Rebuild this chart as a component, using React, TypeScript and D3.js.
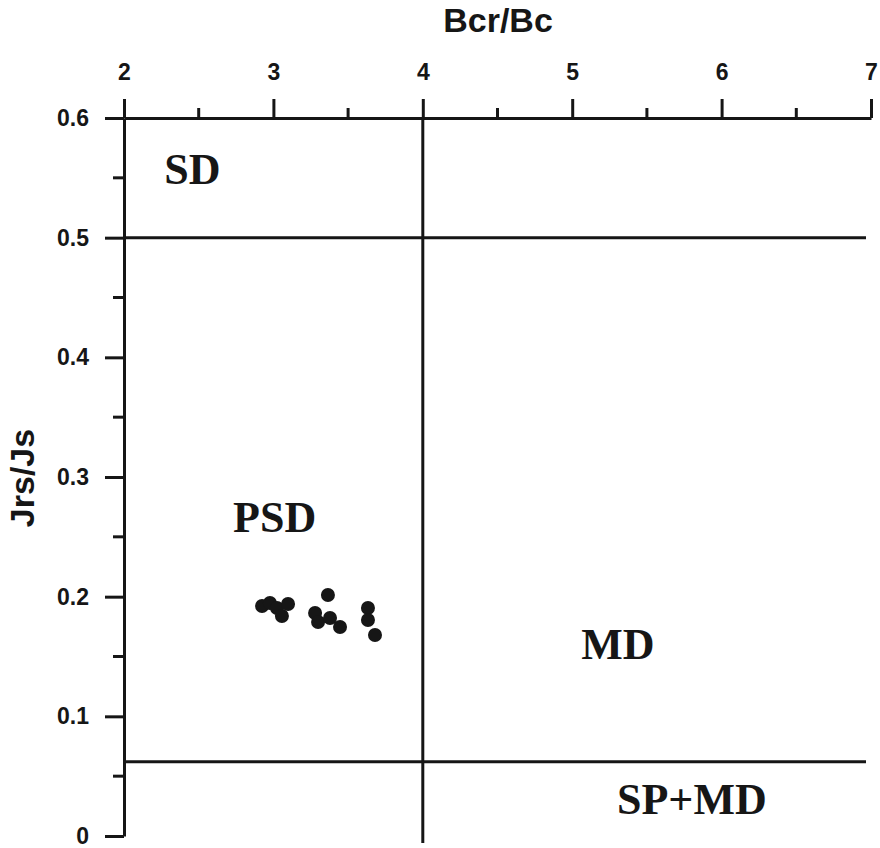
import React, { useEffect, useRef } from 'react';
import * as d3 from 'd3';

// Day plot data: Bcr/Bc vs Jrs/Js
const bcrBc = [2.924, 2.977, 3.024, 3.057, 3.098, 3.365, 3.279, 3.299, 3.379, 3.446, 3.633, 3.633, 3.68];
const jrsJs = [0.1922, 0.1947, 0.1905, 0.1838, 0.1939, 0.2014, 0.1864, 0.1788, 0.1822, 0.1747, 0.1905, 0.1805, 0.168];

const xTicks = [2, 3, 4, 5, 6, 7];
const xMinorTicks = [2.5, 3.5, 4.5, 5.5, 6.5];
const yTicks = [0, 0.1, 0.2, 0.3, 0.4, 0.5, 0.6];
const yMinorTicks = [0.05, 0.15, 0.25, 0.35, 0.45, 0.55];

// domain boundaries
const sdLimitY = 0.5;
const spLimitY = 0.062;
const psdLimitX = 4;

const regionLabels = ['SD', 'PSD', 'MD', 'SP+MD'];
const regionX = [2.27, 2.73, 5.06, 5.3];
const regionY = [0.545, 0.254, 0.148, 0.018];

const W = 880;
const H = 848;

const App: React.FC = () => {
  const svgRef = useRef<SVGSVGElement>(null);

  useEffect(() => {
    if (!svgRef.current) return;

    const svg = d3.select(svgRef.current);
    svg.selectAll('*').remove();

    const x = d3.scaleLinear().domain([2, 7]).range([124, 871]);
    const y = d3.scaleLinear().domain([0, 0.6]).range([836, 118]);

    const ink = '#161616';
    const sans = '"Liberation Sans", Arial, sans-serif';
    const serif = '"Liberation Serif", "Times New Roman", serif';

    // Top axis
    const xAxis = d3.axisTop(x).tickValues(xTicks).tickSize(19).tickSizeOuter(0).tickFormat(d3.format('d'));
    const gx = svg.append('g').attr('transform', `translate(0,${y(0.6)})`).call(xAxis);
    gx.select('.domain').attr('stroke', ink).attr('stroke-width', 3);
    gx.selectAll('.tick line').attr('stroke', ink).attr('stroke-width', 3);
    gx.selectAll('.tick text')
      .attr('y', -38)
      .attr('dy', 0)
      .style('font-family', sans)
      .style('font-size', '23px')
      .style('font-weight', 'bold')
      .attr('fill', ink);

    gx.selectAll('.minor')
      .data(xMinorTicks)
      .enter()
      .append('line')
      .attr('x1', (d) => x(d))
      .attr('x2', (d) => x(d))
      .attr('y1', 0)
      .attr('y2', -10)
      .attr('stroke', ink)
      .attr('stroke-width', 3);

    // Left axis
    const yAxis = d3.axisLeft(y).tickValues(yTicks).tickSize(19).tickSizeOuter(0).tickFormat((d) => String(d));
    const gy = svg.append('g').attr('transform', `translate(${x(2)},0)`).call(yAxis);
    gy.select('.domain').attr('stroke', ink).attr('stroke-width', 3);
    gy.selectAll('.tick line').attr('stroke', ink).attr('stroke-width', 3);
    gy.selectAll('.tick text')
      .attr('x', -35)
      .style('font-family', sans)
      .style('font-size', '23px')
      .style('font-weight', 'bold')
      .attr('fill', ink);

    gy.selectAll('.minor')
      .data(yMinorTicks)
      .enter()
      .append('line')
      .attr('x1', 0)
      .attr('x2', -11)
      .attr('y1', (d) => y(d))
      .attr('y2', (d) => y(d))
      .attr('stroke', ink)
      .attr('stroke-width', 3);

    // Domain boundary lines
    const lines = svg.append('g').attr('stroke', ink).attr('stroke-width', 3);
    lines.append('line')
      .attr('x1', x(psdLimitX)).attr('x2', x(psdLimitX))
      .attr('y1', y(0.6)).attr('y2', y(0) + 7);
    [sdLimitY, spLimitY].forEach((v) => {
      lines.append('line')
        .attr('x1', x(2)).attr('x2', x(7) - 5)
        .attr('y1', y(v)).attr('y2', y(v));
    });

    // Region labels
    svg.append('g')
      .selectAll('text')
      .data(regionLabels)
      .enter()
      .append('text')
      .attr('x', (_, i) => x(regionX[i]))
      .attr('y', (_, i) => y(regionY[i]))
      .style('font-family', serif)
      .style('font-size', '44px')
      .style('font-weight', 'bold')
      .attr('fill', ink)
      .text((d) => d);

    // Points
    svg.append('g')
      .selectAll('circle')
      .data(bcrBc)
      .enter()
      .append('circle')
      .attr('cx', (d) => x(d))
      .attr('cy', (_, i) => y(jrsJs[i]))
      .attr('r', 7)
      .attr('fill', ink);

    // Axis titles
    svg.append('text')
      .attr('x', 498)
      .attr('y', 32)
      .attr('text-anchor', 'middle')
      .style('font-family', sans)
      .style('font-size', '34px')
      .style('font-weight', 'bold')
      .attr('fill', ink)
      .text('Bcr/Bc');

    svg.append('text')
      .attr('transform', 'translate(34,478) rotate(-90)')
      .attr('text-anchor', 'middle')
      .style('font-family', sans)
      .style('font-size', '34px')
      .style('font-weight', 'bold')
      .attr('fill', ink)
      .text('Jrs/Js');
  }, []);

  return (
    <svg
      ref={svgRef}
      width={W}
      height={H}
      viewBox={`0 0 ${W} ${H}`}
      style={{ position: 'absolute', left: 0, top: 0, background: '#fff' }}
    />
  );
};

export default App;
